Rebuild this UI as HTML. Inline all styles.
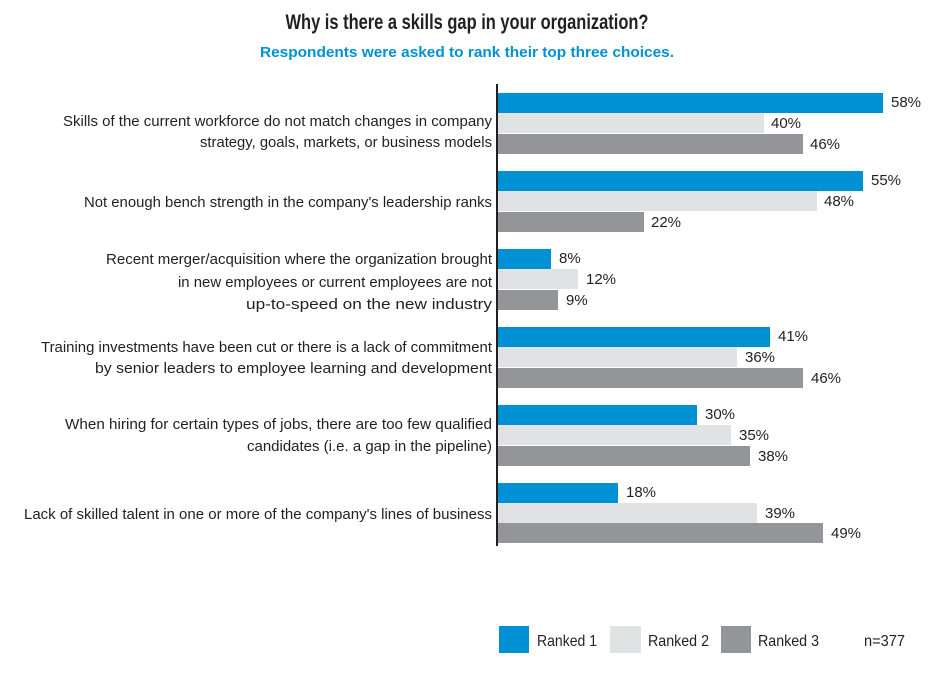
<!DOCTYPE html>
<html><head><meta charset="utf-8"><style>
html,body{margin:0;padding:0;background:#fff;}
svg{display:block;font-family:"Liberation Sans Narrow","Liberation Sans",sans-serif;}
</style></head><body>
<svg width="939" height="675" viewBox="0 0 939 675" xmlns="http://www.w3.org/2000/svg">
<g fill="#231f20" font-size="15">
<text x="467" y="29" text-anchor="middle" font-size="21" font-weight="bold" textLength="363" lengthAdjust="spacingAndGlyphs">Why is there a skills gap in your organization?</text>
<text x="467" y="57" text-anchor="middle" font-size="15" font-weight="bold" fill="#0091d5" textLength="414" lengthAdjust="spacingAndGlyphs">Respondents were asked to rank their top three choices.</text>

<text x="492" y="126" text-anchor="end" textLength="429" lengthAdjust="spacingAndGlyphs">Skills of the current workforce do not match changes in company</text>
<text x="492" y="147" text-anchor="end" textLength="292" lengthAdjust="spacingAndGlyphs">strategy, goals, markets, or business models</text>
<text x="492" y="207" text-anchor="end" textLength="408" lengthAdjust="spacingAndGlyphs">Not enough bench strength in the company's leadership ranks</text>
<text x="492" y="264" text-anchor="end" textLength="386" lengthAdjust="spacingAndGlyphs">Recent merger/acquisition where the organization brought</text>
<text x="492" y="287" text-anchor="end" textLength="314" lengthAdjust="spacingAndGlyphs">in new employees or current employees are not</text>
<text x="492" y="309" text-anchor="end" textLength="246" lengthAdjust="spacingAndGlyphs">up-to-speed on the new industry</text>
<text x="492" y="352" text-anchor="end" textLength="451" lengthAdjust="spacingAndGlyphs">Training investments have been cut or there is a lack of commitment</text>
<text x="492" y="373" text-anchor="end" textLength="397" lengthAdjust="spacingAndGlyphs">by senior leaders to employee learning and development</text>
<text x="492" y="429" text-anchor="end" textLength="427" lengthAdjust="spacingAndGlyphs">When hiring for certain types of jobs, there are too few qualified</text>
<text x="492" y="451" text-anchor="end" textLength="245" lengthAdjust="spacingAndGlyphs">candidates (i.e. a gap in the pipeline)</text>
<text x="492" y="519" text-anchor="end" textLength="468" lengthAdjust="spacingAndGlyphs">Lack of skilled talent in one or more of the company's lines of business</text>
</g>

<g id="bars">
<!-- scale 6.64 px per %, x0=498 -->
<rect x="498" y="93" width="385" height="20" fill="#0091d5"/>
<rect x="498" y="113" width="266" height="20" fill="#e1e2e4"/>
<rect x="498" y="134" width="305" height="20" fill="#949599"/>

<rect x="498" y="171" width="365" height="20" fill="#0091d5"/>
<rect x="498" y="191" width="319" height="20" fill="#e1e2e4"/>
<rect x="498" y="212" width="146" height="20" fill="#949599"/>

<rect x="498" y="249" width="53" height="20" fill="#0091d5"/>
<rect x="498" y="269" width="80" height="20" fill="#e1e2e4"/>
<rect x="498" y="290" width="60" height="20" fill="#949599"/>

<rect x="498" y="327" width="272" height="20" fill="#0091d5"/>
<rect x="498" y="347" width="239" height="20" fill="#e1e2e4"/>
<rect x="498" y="368" width="305" height="20" fill="#949599"/>

<rect x="498" y="405" width="199" height="20" fill="#0091d5"/>
<rect x="498" y="425" width="233" height="20" fill="#e1e2e4"/>
<rect x="498" y="446" width="252" height="20" fill="#949599"/>

<rect x="498" y="483" width="120" height="20" fill="#0091d5"/>
<rect x="498" y="503" width="259" height="20" fill="#e1e2e4"/>
<rect x="498" y="523" width="325" height="20" fill="#949599"/>
</g>
<rect x="496" y="84" width="2" height="462" fill="#231f20"/>

<g fill="#231f20" font-size="15">
<text x="891" y="107">58%</text>
<text x="771" y="128">40%</text>
<text x="810" y="149">46%</text>
<text x="871" y="185">55%</text>
<text x="824" y="206">48%</text>
<text x="651" y="227">22%</text>
<text x="559" y="263">8%</text>
<text x="586" y="284">12%</text>
<text x="566" y="305">9%</text>
<text x="778" y="341">41%</text>
<text x="745" y="362">36%</text>
<text x="811" y="383">46%</text>
<text x="705" y="419">30%</text>
<text x="739" y="440">35%</text>
<text x="758" y="461">38%</text>
<text x="626" y="497">18%</text>
<text x="765" y="518">39%</text>
<text x="831" y="538">49%</text>
</g>

<rect x="499" y="626" width="30" height="27" fill="#0091d5"/>
<rect x="610" y="626" width="31" height="27" fill="#e1e2e4"/>
<rect x="721" y="626" width="30" height="27" fill="#949599"/>
<g fill="#231f20" font-size="16">
<text x="537" y="646" textLength="60" lengthAdjust="spacingAndGlyphs">Ranked 1</text>
<text x="648" y="646" textLength="61" lengthAdjust="spacingAndGlyphs">Ranked 2</text>
<text x="758" y="646" textLength="61" lengthAdjust="spacingAndGlyphs">Ranked 3</text>
<text x="864" y="646" textLength="41" lengthAdjust="spacingAndGlyphs">n=377</text>
</g>
</svg>
</body></html>
